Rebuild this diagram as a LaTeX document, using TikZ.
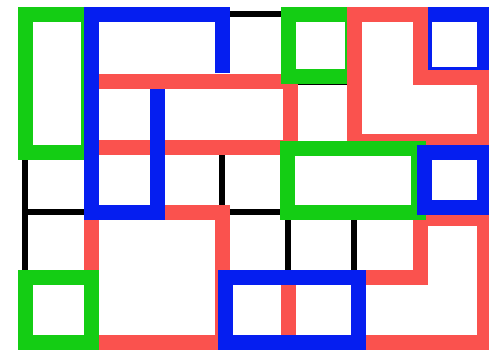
\documentclass[tikz,border=0pt]{standalone}
\definecolor{gG}{RGB}{20,205,20}
\definecolor{bB}{RGB}{5,30,240}
\definecolor{rR}{RGB}{250,82,78}
\tikzset{
  gridline/.style={line width=5.5pt, draw=black, line cap=round},
  band/.style={line width=15pt, line join=miter, line cap=rect},
  gband/.style={band, draw=gG},
  bband/.style={band, draw=bB},
  rband/.style={band, draw=rR}
}
\begin{document}
\begin{tikzpicture}[x=1pt,y=-1pt]
\useasboundingbox (0,0) rectangle (489,357);
% black grid edges
\draw[gridline] (222,14) -- (288,14);
\draw[gridline] (288,82) -- (354,82);
\draw[gridline] (222,146) -- (222,212) -- (288,212) -- (288,277);
\draw[gridline] (354,212) -- (354,277);
\draw[gridline] (25,146) -- (25,277);
\draw[gridline] (25,212) -- (91,212);
% red bottom-right
\draw[rband] (420,218) -- (484,218) -- (484,342) -- (288,342) -- (288,277) -- (420,277) -- cycle;
% red lower-left block
\draw[rband] (91,212) rectangle (222,342);
% green top-left
\draw[gband] (25,14) rectangle (88,152);
% green bottom-left
\draw[gband] (25,277) rectangle (91,342);
% red middle band
\draw[rband] (91,81) rectangle (290,147);
% blue top-left shape
\draw[bband, line cap=butt] (222,73) -- (222,14) -- (91,14) -- (91,212) -- (157,212) -- (157,89);
% green top-middle
\draw[gband] (288,14) rectangle (352,76);
% blue top-right
\draw[bband] (424,14) rectangle (484,74);
% red L
\draw[rband] (354,14) -- (420,14) -- (420,77) -- (484,77) -- (484,141) -- (354,141) -- cycle;
% green middle
\draw[gband] (287,148) rectangle (418,212);
% blue right-middle
\draw[bband] (424,152) rectangle (484,207);
% blue bottom-middle
\draw[bband] (225,277) rectangle (358,342);
\end{tikzpicture}
\end{document}
